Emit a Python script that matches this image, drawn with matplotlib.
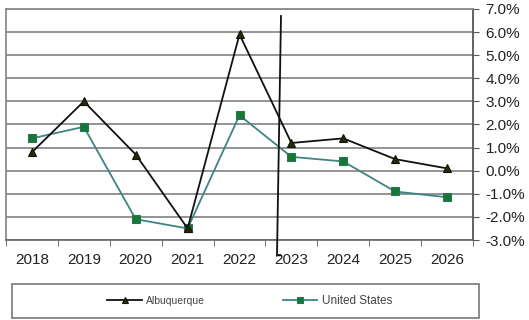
import matplotlib
matplotlib.use("Agg")
import matplotlib.pyplot as plt
from matplotlib.lines import Line2D
from matplotlib.patches import Rectangle
from matplotlib.ticker import FuncFormatter, MultipleLocator

plt.rcParams["font.family"] = ["Liberation Sans", "DejaVu Sans"]

years = ["2018", "2019", "2020", "2021", "2022", "2023", "2024", "2025", "2026"]
albuquerque = [0.8, 3.0, 0.7, -2.5, 5.9, 1.2, 1.4, 0.5, 0.1]
united_states = [1.4, 1.9, -2.1, -2.5, 2.4, 0.6, 0.4, -0.9, -1.15]

fig = plt.figure(figsize=(5.29, 3.2), dpi=100)
ax = fig.add_axes([6 / 529, 1 - 240 / 320, (473 - 6) / 529, (240 - 9) / 320])

x = list(range(len(years)))
ax.plot(x, albuquerque, color="#111111", lw=1.3, marker="^", ms=6,
        mfc="#2b2b00", mec="#111111", mew=0.8, zorder=4, label="Albuquerque")
ax.plot(x, united_states, color="#3f8484", lw=1.3, marker="s", ms=6,
        mfc="#157a30", mec="#2f7060", mew=0.8, zorder=3, label="United States")

ax.set_xlim(-0.5, len(years) - 0.5)
ax.set_ylim(-3.0, 7.0)
ax.yaxis.set_major_locator(MultipleLocator(1.0))
ax.yaxis.set_major_formatter(FuncFormatter(lambda v, p: f"{v:.1f}%"))
ax.yaxis.tick_right()
ax.grid(axis="y", color="#8a8a8a", lw=1.3)
ax.set_axisbelow(True)

ax.set_xticks(x)
ax.set_xticklabels(years)
ax.set_xticks([i + 0.5 for i in range(-1, len(years))], minor=True)
ax.tick_params(axis="x", which="major", length=0, pad=9, labelsize=11, labelcolor="#222222")
ax.tick_params(axis="x", which="minor", length=4, color="#555555", direction="out")
ax.tick_params(axis="y", length=4, color="#555555", direction="out", pad=5,
               labelsize=11, labelcolor="#222222")

for side in ("top", "left"):
    ax.spines[side].set_color("#8a8a8a")
    ax.spines[side].set_linewidth(1.3)
ax.spines["bottom"].set_color("#666666")
ax.spines["bottom"].set_linewidth(1.2)
ax.spines["right"].set_color("#555555")
ax.spines["right"].set_linewidth(1.3)

# forecast divider
fig.add_artist(Line2D([281 / 529, 277 / 529], [1 - 16 / 320, 1 - 255 / 320],
                      color="#111111", lw=1.3, transform=fig.transFigure))
fig.add_artist(Line2D([277 / 529, 280 / 529], [1 - 255 / 320, 1 - 255 / 320],
                      color="#111111", lw=1.0, transform=fig.transFigure))

# legend frame
fig.add_artist(Rectangle((12 / 529, 1 - 318 / 320), (479 - 12) / 529, (318 - 284) / 320,
                         transform=fig.transFigure, fill=False, ec="#777777", lw=1.2))
handles, labels = ax.get_legend_handles_labels()
leg = fig.legend(handles, labels, loc="center", bbox_to_anchor=(0.472, 1 - 301 / 320),
                 ncol=2, frameon=False, fontsize=7.5, columnspacing=7.5, handlelength=3.3,
                 handletextpad=0.4, markerscale=0.7, labelcolor="#444444")
leg.get_texts()[1].set_fontsize(8.5)

fig.savefig("out.png", dpi=100)
